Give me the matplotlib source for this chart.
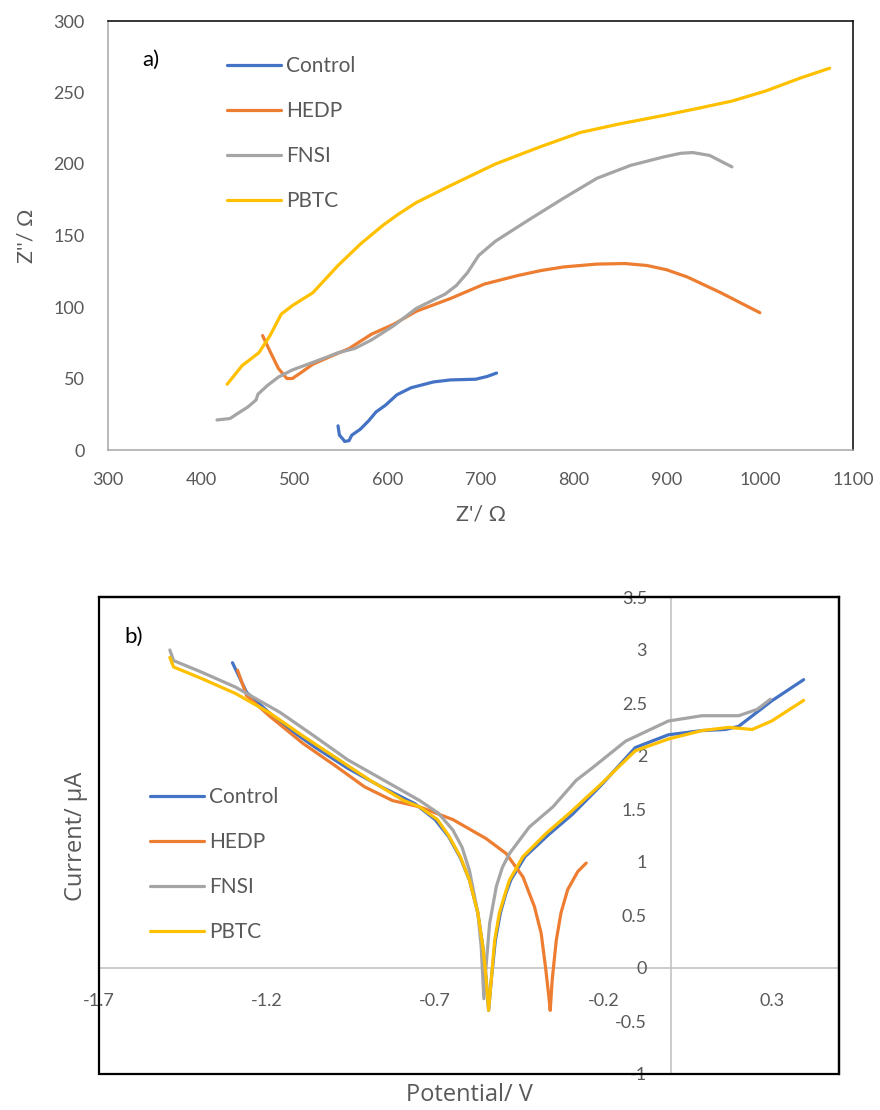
import matplotlib
matplotlib.use('Agg')
import matplotlib.pyplot as plt
from matplotlib.patches import Rectangle

plt.rcParams['font.family'] = ['Lato', 'DejaVu Sans']

series_names = ['Control', 'HEDP', 'FNSI', 'PBTC']
colors = ['#4472C4', '#ED7D31', '#A5A5A5', '#FFC000']
text_col = '#595959'

# --- a) Nyquist data (Z' / Z'') ---
ctrl_zr = [547, 548.5, 552.8, 554, 558.8, 561.8, 570.9, 580, 587.8, 598.1, 610.2, 625.3, 649.5, 667.7, 694.9, 707, 717.2]
ctrl_zi = [16.9, 10.4, 7.2, 6.0, 6.5, 10.4, 14.5, 20.5, 26.6, 31.4, 38.6, 43.5, 47.6, 49.0, 49.5, 51.4, 53.8]
hedp_zr = [466, 474, 483, 492, 498, 507, 520, 541, 559, 583, 607, 631, 668, 704, 740, 765, 789, 825, 855, 879,
           900, 922, 958, 1000]
hedp_zi = [80, 69, 57, 50, 50, 54, 60, 66, 71, 81, 88, 97, 106, 116, 122, 125.5, 128, 130, 130.4, 129,
           126, 121, 110, 96]
fnsi_zr = [417, 431, 438, 450, 459, 461, 471, 483, 498, 523, 547, 565, 583, 607, 631, 662, 674, 686, 698, 716,
           752, 789, 825, 861, 897, 915, 928, 946, 970]
fnsi_zi = [21, 22, 25, 30, 35, 39, 45, 51, 56, 62, 68, 71, 77, 87, 99, 109, 115, 124, 136, 146,
           161, 176, 190, 199, 205, 207.5, 208, 206, 198]
pbtc_zr = [428, 444, 462, 474, 486, 498, 520, 547, 571, 595, 612, 631, 668, 716, 764, 807, 849, 897, 934, 970,
           1006, 1043, 1075]
pbtc_zi = [46, 59, 68, 80, 95, 101, 110, 129, 144, 157, 165, 173, 185, 200, 212, 222, 228, 234, 239, 244,
           251, 260, 267]

# --- b) polarisation data (potential / current) ---
ctrl_v = [-1.302, -1.26, -1.16, -1.06, -0.96, -0.86, -0.76, -0.70, -0.66, -0.625, -0.598, -0.573, -0.558, -0.548,
          -0.541, -0.533, -0.521, -0.506, -0.49, -0.475, -0.433, -0.362, -0.292, -0.205, -0.105, -0.007, 0.093,
          0.162, 0.202, 0.30, 0.395]
ctrl_i = [2.88, 2.60, 2.315, 2.09, 1.885, 1.71, 1.55, 1.40, 1.24, 1.04, 0.83, 0.52, 0.20, -0.11,
          -0.40, -0.11, 0.26, 0.52, 0.70, 0.83, 1.05, 1.26, 1.45, 1.73, 2.08, 2.20, 2.24,
          2.25, 2.28, 2.52, 2.72]
hedp_v = [-1.287, -1.26, -1.193, -1.093, -0.993, -0.91, -0.827, -0.746, -0.647, -0.548, -0.489, -0.439, -0.405,
          -0.385, -0.372, -0.362, -0.358, -0.352, -0.340, -0.326, -0.306, -0.276, -0.251]
hedp_i = [2.81, 2.57, 2.38, 2.12, 1.90, 1.71, 1.58, 1.52, 1.40, 1.22, 1.08, 0.86, 0.58,
          0.33, 0.01, -0.27, -0.40, -0.11, 0.26, 0.52, 0.74, 0.91, 0.99]
fnsi_v = [-1.488, -1.477, -1.393, -1.293, -1.16, -1.06, -0.96, -0.827, -0.746, -0.69, -0.647, -0.62, -0.598,
          -0.573, -0.563, -0.555, -0.548, -0.538, -0.518, -0.50, -0.479, -0.420, -0.350, -0.281, -0.232, -0.134,
          -0.007, 0.093, 0.202, 0.257, 0.296]
fnsi_i = [3.0, 2.90, 2.79, 2.65, 2.41, 2.19, 1.965, 1.726, 1.58, 1.46, 1.30, 1.14, 0.92,
          0.52, 0.20, -0.29, 0.04, 0.42, 0.77, 0.95, 1.08, 1.33, 1.52, 1.77, 1.89, 2.14,
          2.33, 2.38, 2.38, 2.44, 2.535]
pbtc_v = [-1.488, -1.477, -1.393, -1.293, -1.193, -1.093, -0.993, -0.893, -0.793, -0.746, -0.693, -0.66, -0.625,
          -0.598, -0.573, -0.558, -0.548, -0.541, -0.533, -0.523, -0.509, -0.49, -0.479, -0.439, -0.370, -0.301,
          -0.212, -0.105, -0.007, 0.093, 0.173, 0.242, 0.30, 0.395]
pbtc_i = [2.93, 2.84, 2.73, 2.59, 2.41, 2.19, 1.98, 1.77, 1.58, 1.52, 1.40, 1.25, 1.05,
          0.83, 0.52, 0.20, -0.11, -0.40, -0.11, 0.26, 0.52, 0.72, 0.83, 1.05, 1.27, 1.46,
          1.72, 2.05, 2.16, 2.24, 2.27, 2.25, 2.33, 2.525]

a_x_ticks = [300, 400, 500, 600, 700, 800, 900, 1000, 1100]
a_y_ticks = [0, 50, 100, 150, 200, 250, 300]
b_x_ticks = [-1.7, -1.2, -0.7, -0.2, 0.3]
b_y_ticks = [-1, -0.5, 0, 0.5, 1, 1.5, 2, 2.5, 3, 3.5]

W, H = 880, 1110
fig = plt.figure(figsize=(8.8, 11.1), dpi=100)

def rect(l, t, r, b):
    return [l / W, 1 - b / H, (r - l) / W, (b - t) / H]

line_kw = dict(lw=2.3, solid_capstyle='round', solid_joinstyle='round')
leg_kw = dict(bbox_transform=fig.transFigure, frameon=False, fontsize=15, labelcolor=text_col,
              handlelength=2.6, handletextpad=0.25, labelspacing=1.2, borderpad=0, borderaxespad=0,
              loc='upper left')

# ---------------- panel a ----------------
ax1 = fig.add_axes(rect(108, 21, 853, 450))
nyq = [(ctrl_zr, ctrl_zi), (hedp_zr, hedp_zi), (fnsi_zr, fnsi_zi), (pbtc_zr, pbtc_zi)]
for (xs, ys), name, c in zip(nyq, series_names, colors):
    ax1.plot(xs, ys, color=c, label=name, **line_kw)
ax1.set_xlim(300, 1100)
ax1.set_ylim(0, 300)
ax1.set_xticks(a_x_ticks)
ax1.set_yticks(a_y_ticks)
ax1.tick_params(length=0, labelsize=13, labelcolor=text_col)
ax1.tick_params(axis='x', pad=16)
ax1.tick_params(axis='y', pad=17)
for s in ['top', 'right']:
    ax1.spines[s].set_color('black')
    ax1.spines[s].set_linewidth(1.1)
for s in ['left', 'bottom']:
    ax1.spines[s].set_color('#A6A6A6')
    ax1.spines[s].set_linewidth(1.1)
ax1.set_xlabel("Z'/ Ω", fontsize=15.5, color=text_col, labelpad=12)
ax1.set_ylabel("Z''/ Ω", fontsize=15.5, color=text_col, labelpad=12)
fig.text(151 / W, 1 - 60 / H, 'a)', ha='center', va='center', fontsize=16, color='black')
ax1.legend(bbox_to_anchor=(227 / W, 1 - 56 / H), **leg_kw)

# ---------------- panel b ----------------
ax2 = fig.add_axes(rect(98.5, 597, 839, 1074))
pol = [(ctrl_v, ctrl_i), (hedp_v, hedp_i), (fnsi_v, fnsi_i), (pbtc_v, pbtc_i)]
for (xs, ys), name, c in zip(pol, series_names, colors):
    ax2.plot(xs, ys, color=c, label=name, **line_kw)
ax2.set_xlim(-1.7, 0.5)
ax2.set_ylim(-1, 3.5)
ax2.set_xticks(b_x_ticks)
ax2.set_xticklabels([f'{v:g}' for v in b_x_ticks])
ax2.set_yticks(b_y_ticks)
ax2.set_yticklabels([f'{v:g}' for v in b_y_ticks])
ax2.spines['left'].set_position(('data', 0))
ax2.spines['bottom'].set_position(('data', 0))
for s in ['left', 'bottom']:
    ax2.spines[s].set_color('#BFBFBF')
    ax2.spines[s].set_linewidth(1.1)
    ax2.spines[s].set_zorder(0.5)
for s in ['top', 'right']:
    ax2.spines[s].set_color('black')
    ax2.spines[s].set_linewidth(1.6)
ax2.add_patch(Rectangle((0, 0), 1, 1, transform=ax2.transAxes, fill=False, ec='black', lw=1.6,
                        clip_on=False, zorder=3))
ax2.tick_params(length=0, labelsize=13, labelcolor=text_col)
ax2.tick_params(axis='x', pad=18)
ax2.tick_params(axis='y', pad=17)
fig.text(76 / W, 1 - 836 / H, 'Current/ µA', rotation=90, ha='center', va='center', fontsize=17,
         color=text_col, family=['Open Sans', 'DejaVu Sans'])
fig.text(469 / W, 1 - 1095 / H, 'Potential/ V', ha='center', va='center', fontsize=17,
         color=text_col, family=['Open Sans', 'DejaVu Sans'])
fig.text(134 / W, 1 - 637 / H, 'b)', ha='center', va='center', fontsize=16, color='black')
ax2.legend(bbox_to_anchor=(150 / W, 1 - 787 / H), **leg_kw)

fig.savefig('out.png', dpi=100)
